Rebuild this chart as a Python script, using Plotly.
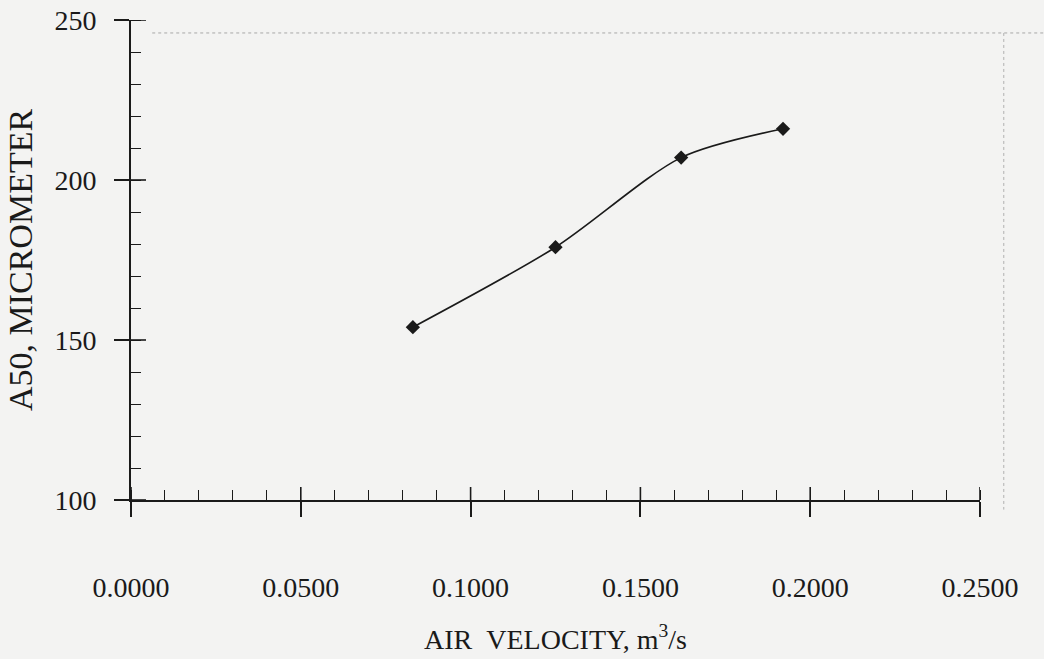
import plotly.graph_objects as go

air_velocity = [0.083, 0.125, 0.162, 0.192]
a50_micrometer = [154, 179, 207, 216]

x_tickvals = [0.0, 0.05, 0.10, 0.15, 0.20, 0.25]
x_ticktext = ["0.0000", "0.0500", "0.1000", "0.1500", "0.2000", "0.2500"]
y_tickvals = [100, 150, 200, 250]
y_ticktext = ["100", "150", "200", "250"]

FONT = "Liberation Serif, Times New Roman, serif"
BG = "#f3f3f2"
INK = "#1a1a1a"

W, H = 1044, 659
ML, MR, MT, MB = 131, 64, 20, 159
PLOT_W, PLOT_H = W - ML - MR, H - MT - MB

fig = go.Figure()
fig.add_trace(go.Scatter(
    x=air_velocity, y=a50_micrometer,
    mode="lines+markers",
    line=dict(color=INK, width=1.6, shape="spline", smoothing=0.8),
    marker=dict(symbol="diamond", size=11, color=INK),
    showlegend=False, hoverinfo="skip",
))

common_x = dict(range=[0, 0.25], tickvals=x_tickvals, showgrid=False, zeroline=False, automargin=False)
common_y = dict(range=[100, 250], tickvals=y_tickvals, showgrid=False, zeroline=False, automargin=False)

# inner half of the crossing major ticks (the outer half is drawn by the axes themselves)
tick_shapes = []
for v in x_tickvals:
    tick_shapes.append(dict(type="line", xref="x", yref="paper", layer="above",
                            x0=v, x1=v, y0=0, y1=13 / PLOT_H, line=dict(color=INK, width=1.6)))
for v in y_tickvals:
    tick_shapes.append(dict(type="line", xref="paper", yref="y", layer="above",
                            x0=0, x1=15 / PLOT_W, y0=v, y1=v, line=dict(color=INK, width=1.6)))

frame_shapes = [
    dict(type="line", xref="paper", yref="paper", x0=0.025, x1=1.075, y0=0.973, y1=0.973,
         line=dict(color="#a8a8a8", width=1, dash="dot")),
    dict(type="line", xref="paper", yref="paper", x0=1.028, x1=1.028, y0=0.973, y1=-0.02,
         line=dict(color="#b0b0b0", width=1, dash="dot")),
]

fig.update_layout(
    width=W, height=H,
    margin=dict(l=ML, r=MR, t=MT, b=MB),
    paper_bgcolor=BG, plot_bgcolor=BG,
    font=dict(family=FONT, size=26, color=INK),
    xaxis=dict(
        **common_x, ticktext=x_ticktext,
        ticks="outside", ticklen=15, tickwidth=1.5, tickcolor=INK,
        showline=True, linewidth=2, linecolor=INK,
        minor=dict(dtick=0.01, ticks="inside", ticklen=10, tickwidth=1.3, tickcolor=INK),
        ticklabelstandoff=46,
        tickfont=dict(family=FONT, size=28),
        title=dict(text="AIR&nbsp;&nbsp;VELOCITY, m<sup>3</sup>/s", font=dict(family=FONT, size=28), standoff=28),
    ),
    yaxis=dict(
        **common_y, ticktext=y_ticktext,
        ticks="outside", ticklen=15, tickwidth=1.5, tickcolor=INK,
        showline=True, linewidth=2, linecolor=INK,
        minor=dict(dtick=10, ticks="inside", ticklen=10, tickwidth=1.3, tickcolor=INK),
        ticklabelstandoff=12,
        tickfont=dict(family=FONT, size=28),
        title=dict(text="A50, MICROMETER", font=dict(family=FONT, size=34), standoff=12),
    ),
    shapes=tick_shapes + frame_shapes,
)

fig.write_html(
    "out.html",
    config={"displayModeBar": False},
    post_script="document.body.style.margin='0';document.body.style.background='#f3f3f2';",
)
